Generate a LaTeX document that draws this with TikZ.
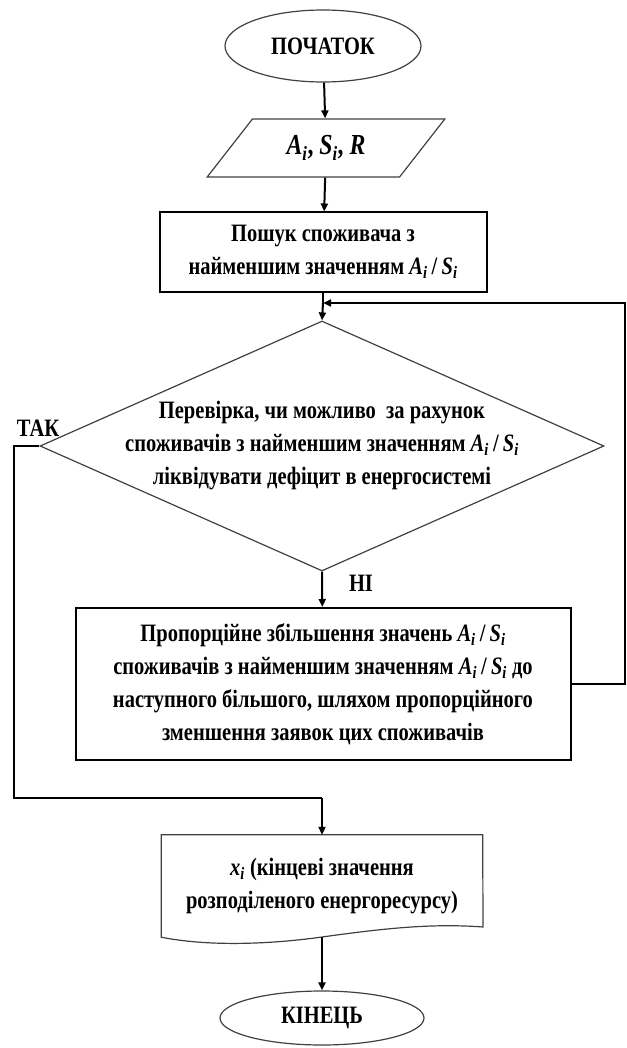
\documentclass[tikz,border=0pt]{standalone}
\usepackage{fontspec}
\setmainfont{Liberation Serif}[FakeStretch=0.82]
\usetikzlibrary{arrows.meta, shapes.geometric}

\newcommand{\ASratio}{\textit{A}\textsubscript{\textit{i}}\,/\,\textit{S}\textsubscript{\textit{i}}}

\begin{document}
\begin{tikzpicture}[
    x=1pt, y=-1pt,
    every node/.style={font=\fontsize{25}{33}\selectfont\bfseries, align=center},
    terminal/.style={ellipse, draw=black!75, line width=1.2pt, minimum width=196pt, minimum height=72pt},
    inputbox/.style={trapezium, trapezium left angle=50, trapezium right angle=130, trapezium stretches,
        draw=black!75, line width=1.2pt, minimum width=238pt, minimum height=58pt},
    process/.style={rectangle, draw, line width=2pt},
    decision/.style={diamond, draw=black!75, line width=1.2pt, minimum width=564pt, minimum height=250pt, inner sep=0pt},
    docbox/.style={rectangle, minimum width=321pt, minimum height=102pt},
    line/.style={line width=2pt},
    arrow/.style={-{Triangle[length=8pt,width=7pt]}, line width=2pt}
]
\useasboundingbox (0,0) rectangle (626,1048);

\node[terminal] (start) at (323,46) {ПОЧАТОК};
\node[inputbox, font=\fontsize{29}{33}\selectfont\bfseries] (data) at (326,148)
    {\textit{A}\textsubscript{\textit{i}}, \textit{S}\textsubscript{\textit{i}}, \textit{R}};
\node[process, minimum width=327pt, minimum height=79pt] (search) at (323,252)
    {Пошук споживача з\\найменшим значенням \ASratio};
\coordinate (join) at (323,303);
\node[decision] (check) at (322,446) {};
\node (checktext) at (check) {Перевірка, чи можливо \ за рахунок\\споживачів з найменшим значенням \ASratio\\ліквідувати дефіцит в енергосистемі};
\node[process, minimum width=495pt, minimum height=152pt] (shift) at (323,684)
    {Пропорційне збільшення значень \ASratio\\споживачів з найменшим значенням \ASratio\ до\\наступного більшого, шляхом пропорційного\\зменшення заявок цих споживачів};
\node[docbox] (result) at (322,886) {\textit{x}\textsubscript{\textit{i}} (кінцеві значення\\розподіленого енергоресурсу)};
\node[terminal, minimum width=204pt, minimum height=54pt] (stop) at (322,1018) {КІНЕЦЬ};

\node (yes) at (38,428) {ТАК};
\node (no) at (361,583) {НІ};

% output shape with wavy bottom
\draw[line width=1.2pt, draw=black!75] (result.south west) -- (result.north west) -- (result.north east)
    -- (483,927) .. controls (430,923) and (380,929) .. (322,937)
    .. controls (265,945) and (205,946) .. (result.south west) -- cycle;

\coordinate (loopa) at (625,684);
\coordinate (loopb) at (625,303);
\coordinate (yesa) at (14,446);
\coordinate (yesb) at (14,798);
\coordinate (yesc) at (322,798);

\draw[arrow] (start) -- (data);
\draw[arrow] (data) -- (search);
\draw[line] (search) -- (join);
\draw[arrow] (join) -- (check.north);
\draw[arrow] (check.south) -- (shift);
\draw[arrow] (shift.east) -- (loopa) -- (loopb) -- (join);
\draw[line] (check.west) -- (yesa) -- (yesb) -- (yesc);
\draw[arrow] (yesc) -- (result.north);
\draw[arrow] (result.south) -- (stop);
\end{tikzpicture}
\end{document}
